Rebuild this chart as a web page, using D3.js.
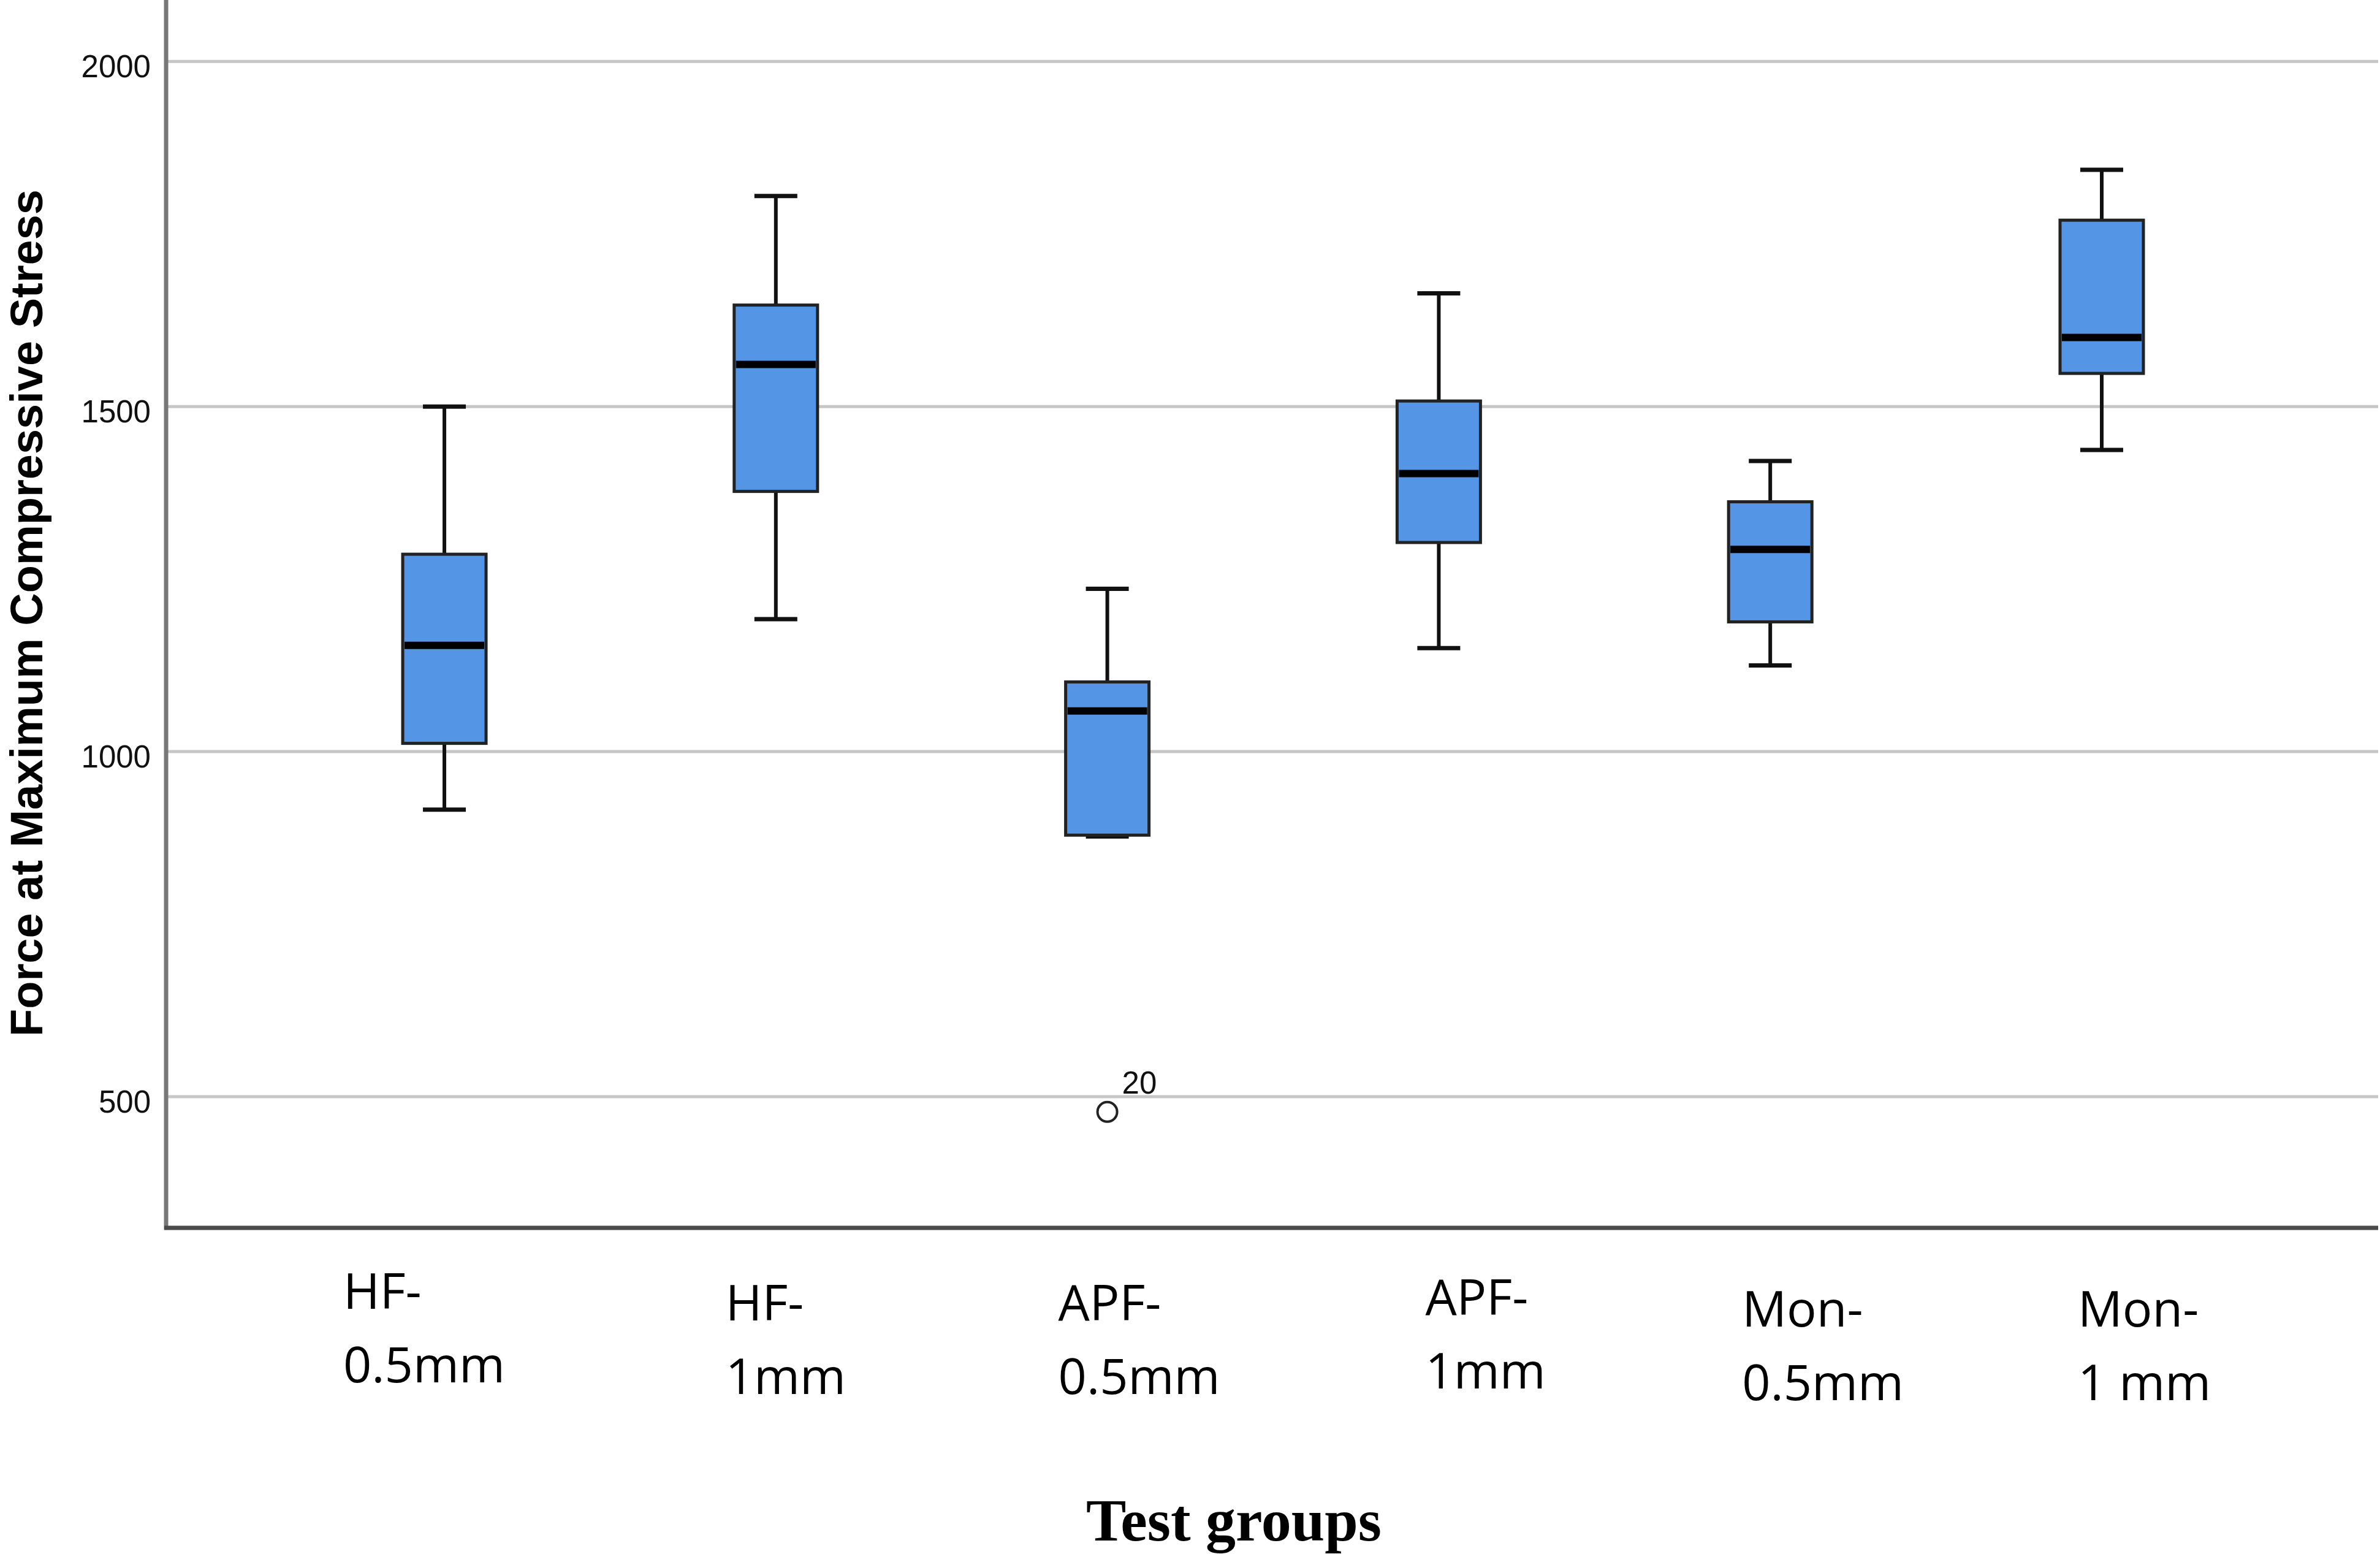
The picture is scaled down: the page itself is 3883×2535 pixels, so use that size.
<!DOCTYPE html>
<html>
<head>
<meta charset="utf-8">
<script src="https://cdn.jsdelivr.net/npm/d3@7"></script>
<style>
  body { margin: 0; background: #fff; }
  svg { display: block; }
</style>
</head>
<body>
<script>
// box plot values
const groups = ["HF-0.5mm", "HF-1mm", "APF-0.5mm", "APF-1mm", "Mon-0.5mm", "Mon-1 mm"];
const lowWhisker = [916, 1192, 877, 1150, 1125, 1437];
const q1 = [1012, 1377, 879, 1303, 1188, 1548];
const median = [1154, 1561, 1059, 1403, 1293, 1600];
const q3 = [1286, 1647, 1101, 1508, 1362, 1770];
const highWhisker = [1500, 1805, 1236, 1664, 1421, 1843];

const outlierGroups = ["APF-0.5mm"];
const outlierValues = [478];
const outlierLabels = ["20"];

const labelTop = ["HF-", "HF-", "APF-", "APF-", "Mon-", "Mon-"];
const labelBottom = ["0.5mm", "1mm", "0.5mm", "1mm", "0.5mm", "1 mm"];

const yTicks = [500, 1000, 1500, 2000];

// layout
const W = 3883, H = 2535;
const plot = { left: 274, right: 3880, top: 0, bottom: 2003 };
// hand placed category labels in the original: offset from box centre, baseline
const labelDx = [-165, -82, -80, -22, -46, -39];
const labelY = [2135, 2154, 2154, 2145, 2164, 2164];

const svg = d3.select("body").append("svg")
    .attr("width", W)
    .attr("height", H);

const x = d3.scalePoint()
    .domain(groups)
    .range([plot.left, plot.right])
    .padding(0.834);

const y = d3.scaleLinear()
    .domain([310, 2089])
    .range([plot.bottom, plot.top]);

// gridlines
svg.append("g")
    .selectAll("line")
    .data(yTicks)
    .enter()
    .append("line")
    .attr("x1", plot.left)
    .attr("x2", plot.right)
    .attr("y1", d => y(d))
    .attr("y2", d => y(d))
    .attr("stroke", "#c6c6c6")
    .attr("stroke-width", 5);

// y axis with tick labels only
const yAxis = svg.append("g")
    .attr("transform", "translate(" + plot.left + ",0)")
    .call(d3.axisLeft(y).tickValues(yTicks).tickFormat(d3.format("d")).tickSize(0).tickPadding(28));
yAxis.select(".domain").remove();
yAxis.selectAll("text")
    .attr("font-family", "Liberation Sans, Arial, sans-serif")
    .attr("font-size", "51px")
    .attr("fill", "#111")
    .attr("dy", "0.5em");

// axis lines
svg.append("line")
    .attr("x1", plot.left - 3).attr("x2", plot.left - 3)
    .attr("y1", plot.top).attr("y2", plot.bottom + 3)
    .attr("stroke", "#777")
    .attr("stroke-width", 7);
svg.append("line")
    .attr("x1", plot.left - 6).attr("x2", plot.right)
    .attr("y1", plot.bottom).attr("y2", plot.bottom)
    .attr("stroke", "#4a4a4a")
    .attr("stroke-width", 7);

const boxW = 136, capW = 70;
const rows = groups.map((g, i) => ({
    g: g, lo: lowWhisker[i], q1: q1[i], med: median[i], q3: q3[i], hi: highWhisker[i]
}));

const box = svg.append("g")
    .selectAll("g")
    .data(rows)
    .enter()
    .append("g");

// whiskers
box.append("line")
    .attr("x1", d => x(d.g)).attr("x2", d => x(d.g))
    .attr("y1", d => y(d.q3)).attr("y2", d => y(d.hi))
    .attr("stroke", "#111").attr("stroke-width", 6);
box.append("line")
    .attr("x1", d => x(d.g)).attr("x2", d => x(d.g))
    .attr("y1", d => y(d.q1)).attr("y2", d => y(d.lo))
    .attr("stroke", "#111").attr("stroke-width", 6);

// caps
box.append("line")
    .attr("x1", d => x(d.g) - capW / 2).attr("x2", d => x(d.g) + capW / 2)
    .attr("y1", d => y(d.hi)).attr("y2", d => y(d.hi))
    .attr("stroke", "#111").attr("stroke-width", 7);
box.append("line")
    .attr("x1", d => x(d.g) - capW / 2).attr("x2", d => x(d.g) + capW / 2)
    .attr("y1", d => y(d.lo)).attr("y2", d => y(d.lo))
    .attr("stroke", "#111").attr("stroke-width", 7);

// boxes
box.append("rect")
    .attr("x", d => x(d.g) - boxW / 2)
    .attr("width", boxW)
    .attr("y", d => y(d.q3))
    .attr("height", d => y(d.q1) - y(d.q3))
    .attr("fill", "#5595e5")
    .attr("stroke", "#222")
    .attr("stroke-width", 5);

// medians
box.append("line")
    .attr("x1", d => x(d.g) - boxW / 2 + 3).attr("x2", d => x(d.g) + boxW / 2 - 3)
    .attr("y1", d => y(d.med)).attr("y2", d => y(d.med))
    .attr("stroke", "#000").attr("stroke-width", 12);

// outliers
const out = svg.append("g")
    .selectAll("g")
    .data(outlierValues.map((v, i) => ({ g: outlierGroups[i], v: v, label: outlierLabels[i] })))
    .enter()
    .append("g");
out.append("circle")
    .attr("cx", d => x(d.g))
    .attr("cy", d => y(d.v))
    .attr("r", 16)
    .attr("fill", "none")
    .attr("stroke", "#222")
    .attr("stroke-width", 4);
out.append("text")
    .attr("x", d => x(d.g) + 24)
    .attr("y", d => y(d.v) - 30)
    .attr("font-family", "Liberation Sans, Arial, sans-serif")
    .attr("font-size", "51px")
    .attr("fill", "#111")
    .text(d => d.label);

// category labels, two lines each
const cat = svg.append("g")
    .selectAll("text")
    .data(groups)
    .enter()
    .append("text")
    .attr("font-family", "Open Sans, sans-serif")
    .attr("font-size", "81px")
    .attr("fill", "#000")
    .attr("text-anchor", "start");
cat.append("tspan")
    .attr("x", (d, i) => x(d) + labelDx[i])
    .attr("y", (d, i) => labelY[i])
    .text((d, i) => labelTop[i]);
cat.append("tspan")
    .attr("x", (d, i) => x(d) + labelDx[i])
    .attr("y", (d, i) => labelY[i] + 120)
    .text((d, i) => labelBottom[i]);

// axis titles
svg.append("text")
    .attr("x", 2013)
    .attr("y", 2513)
    .attr("text-anchor", "middle")
    .attr("font-family", "Liberation Serif, Times New Roman, serif")
    .attr("font-weight", "bold")
    .attr("font-size", "98px")
    .text("Test groups");

svg.append("text")
    .attr("transform", "translate(69,1000)rotate(-90)")
    .attr("text-anchor", "middle")
    .attr("font-family", "Liberation Sans, Arial, sans-serif")
    .attr("font-weight", "bold")
    .attr("font-size", "74px")
    .text("Force at Maximum Compressive Stress");
</script>
</body>
</html>
